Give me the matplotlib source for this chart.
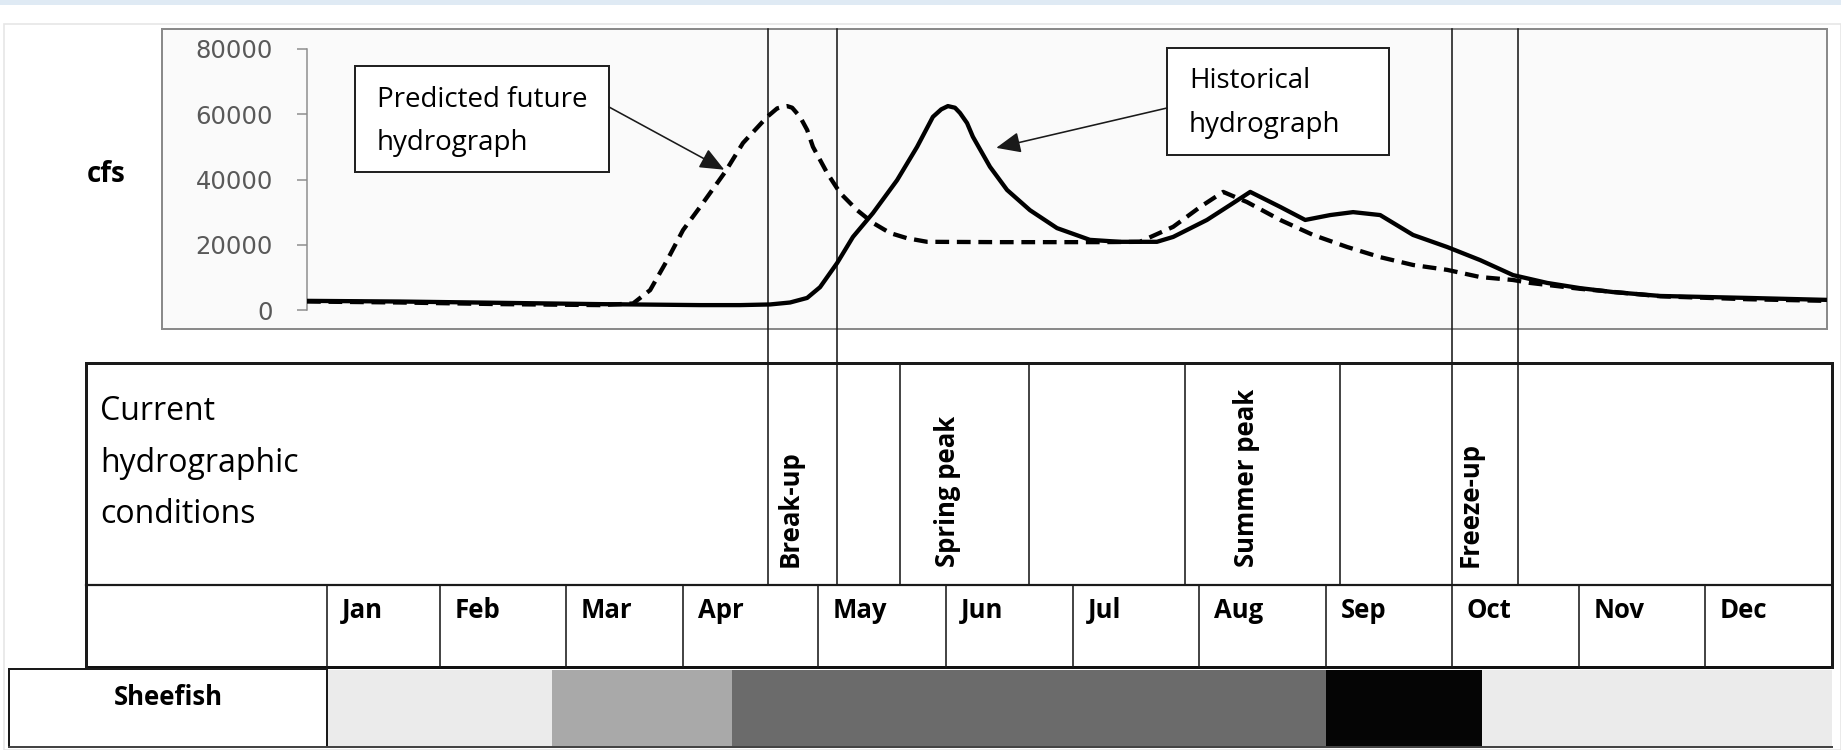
import numpy as np
import matplotlib
matplotlib.use("Agg")
import matplotlib.pyplot as plt
from matplotlib.patches import Rectangle
from matplotlib.transforms import blended_transform_factory

# ---------------- data ----------------
hist_day = [0, 22.3, 46.3, 70.4, 94.4, 104, 111.2, 116, 120.1, 123.2, 127.3, 131.1,
            135.9, 141.7, 146.5, 150.3, 152.3, 153.9, 155.6, 156.8, 158.5, 159.9, 164, 168.1,
            173.6, 180.1, 188, 195.2, 204.1, 208, 216.1, 221.7, 226.5, 233.7, 239.7,
            245.7, 251.2, 257.7, 265.6, 273.8, 281.7, 289.6, 297.8, 305.7, 313.6, 325,
            346, 365]
hist_cfs = [2800, 2600, 2200, 1800, 1500, 1500, 1700, 2300, 3700, 7000, 14400, 22400,
            29700, 39800, 50000, 59200, 61500, 62500, 62000, 60400, 57300, 53100, 43900, 36800,
            30600, 25100, 21500, 20900, 20900, 22400, 27600, 32200, 36200, 31600, 27600,
            29100, 30000, 29100, 23000, 19300, 15300, 10700, 8300, 6700, 5500, 4300,
            3700, 3100]

pred_day = [0, 22.3, 46.3, 70.4, 78.3, 82.4, 86.5, 90.3, 94.4, 100.4, 104.7, 110.5,
            112.9, 114.3, 115.3, 116.5, 118.4, 120.1, 121.5, 124.9, 128, 132.1, 135.9,
            140, 144.1, 148.9, 166.4, 190.4, 200, 208, 214.5, 220, 225.7, 233.7, 241.6,
            249.8, 257.7, 265.6, 273.8, 281.7, 289.6, 293.7, 305.7, 325, 346, 365]
pred_cfs = [2600, 2300, 1800, 1500, 2000, 6100, 15300, 24500, 31600, 42300, 51200, 59200,
            61800, 62300, 62500, 62000, 59200, 55200, 50000, 42000, 35900, 30600, 26700,
            23600, 22000, 20900, 20800, 20800, 20900, 25500, 31600, 36200, 33100, 27600,
            23000, 19300, 16200, 13800, 12300, 10100, 9200, 8300, 6500, 4200, 3300, 2800]

yticks = [0, 20000, 40000, 60000, 80000]
months = ["Jan", "Feb", "Mar", "Apr", "May", "Jun", "Jul", "Aug", "Sep", "Oct", "Nov", "Dec"]
breakup_days = [110.7, 127.3]
freezeup_days = [275.0, 290.8]
condition_labels = ["Break-up", "Spring peak", "Summer peak", "Freeze-up"]
species = "Sheefish"
sheefish_start = [0.0, 1.89, 3.36, 8.0, 9.24]      # in months from Jan 1
sheefish_end = [1.89, 3.36, 8.0, 9.24, 12.0]
sheefish_level = ["low", "medium", "high", "peak", "low"]

# ---------------- layout / style ----------------
W, H = 1841, 750
PX = 0.72  # points per pixel at dpi 100
level_colors = {"low": "#ebebeb", "medium": "#a9a9a9", "high": "#6b6b6b", "peak": "#050505"}
month_edges_px = [327, 440, 566, 683, 818, 946, 1073, 1199, 1326, 1452, 1579, 1705, 1832]
cond_dividers_px = [900, 1029, 1185, 1340]
cond_label_x = [790, 948, 1247, 1470]
FONT = "Open Sans"

fig = plt.figure(figsize=(W / 100, H / 100), dpi=100)
fig.patch.set_facecolor("white")

bg = fig.add_axes([0, 0, 1, 1])
bg.set_xlim(0, W)
bg.set_ylim(H, 0)
bg.axis("off")

# page decorations
bg.add_patch(Rectangle((0, 0), W, 5, fc="#dfeaf4", ec="none"))
bg.add_patch(Rectangle((4, 24), W - 4, H - 24, fc="white", ec="#e6e6e6", lw=1.2))
# chart area
bg.add_patch(Rectangle((162, 29), 1827 - 162, 329 - 29, fc="#fafafa", ec="#8a8a8a", lw=2 * PX))

# chart axes
ax = fig.add_axes([307 / W, 1 - 310 / H, (1827 - 307) / W, (310 - 49) / H])
ax.set_facecolor("none")
ax.plot(pred_day, pred_cfs, color="black", lw=4.3 * PX, linestyle=(0, (3.2, 1.8)),
        dash_capstyle="butt", solid_joinstyle="round", zorder=3)
ax.plot(hist_day, hist_cfs, color="black", lw=4.3 * PX, solid_joinstyle="round",
        solid_capstyle="butt", zorder=4)
ax.set_xlim(0, 365)
ax.set_ylim(0, 80000)
ax.set_yticks(yticks)
ax.set_yticklabels([str(v) for v in yticks], fontfamily="DejaVu Sans", fontsize=17.5,
                   color="#595959")
ax.set_xticks([])
for s in ["top", "right", "bottom"]:
    ax.spines[s].set_visible(False)
ax.spines["left"].set_color("#8c8c8c")
ax.spines["left"].set_linewidth(1.5 * PX)
ax.tick_params(axis="y", direction="out", length=10 * PX, width=1.5 * PX,
               color="#8c8c8c", pad=24 * PX)

# event lines through chart and conditions row
trans = blended_transform_factory(ax.transData, bg.transData)
for d in breakup_days + freezeup_days:
    ax.plot([d, d], [29, 585], transform=trans, color="#1a1a1a", lw=1.6 * PX,
            clip_on=False, zorder=2)

# y label
bg.text(87, 182, "cfs", fontfamily=FONT, fontweight="bold", fontsize=20,
        ha="left", va="baseline", color="black")

# annotation boxes
bg.add_patch(Rectangle((355, 66), 254, 106, fc="white", ec="#222222", lw=2 * PX, zorder=5))
bg.text(377, 107, "Predicted future", fontfamily=FONT, fontsize=20, va="baseline", zorder=6)
bg.text(377, 150, "hydrograph", fontfamily=FONT, fontsize=20, va="baseline", zorder=6)
bg.add_patch(Rectangle((1167, 48), 222, 107, fc="white", ec="#222222", lw=2 * PX, zorder=5))
bg.text(1189, 88, "Historical", fontfamily=FONT, fontsize=20, va="baseline", zorder=6)
bg.text(1189, 132, "hydrograph", fontfamily=FONT, fontsize=20, va="baseline", zorder=6)

arrow_kw = dict(arrowstyle="-|>,head_length=0.75,head_width=0.32", color="#1a1a1a",
                lw=1.6 * PX, shrinkA=0, shrinkB=0, mutation_scale=20)
ax.annotate("", xy=(100.2, 43000), xytext=(609, 107), textcoords=bg.transData,
            arrowprops=arrow_kw, annotation_clip=False)
ax.annotate("", xy=(165.5, 49700), xytext=(1167, 108), textcoords=bg.transData,
            arrowprops=arrow_kw, annotation_clip=False)

# ---------------- table ----------------
thick = 3 * PX
thin = 1.6 * PX
# conditions row
bg.plot([86, 1832], [363, 363], color="#1a1a1a", lw=thick)
bg.plot([86, 1832], [585, 585], color="#1a1a1a", lw=2.2 * PX)
bg.plot([86, 1832], [667, 667], color="#111111", lw=thick)
bg.plot([86, 86], [363, 667], color="#1a1a1a", lw=thick)
bg.plot([1832, 1832], [363, 667], color="#1a1a1a", lw=thick)
for x in cond_dividers_px:
    bg.plot([x, x], [363, 585], color="#1a1a1a", lw=thin)
for x in month_edges_px[:-1]:
    bg.plot([x, x], [585, 667], color="#1a1a1a", lw=thin)

cond_lines_y = [420, 472, 523]
for yy, t in zip(cond_lines_y, ["Current", "hydrographic", "conditions"]):
    bg.text(100, yy, t, fontfamily=FONT, fontsize=23, va="baseline", ha="left")

for x, t in zip(cond_label_x, condition_labels):
    bg.text(x, 567, t, fontfamily=FONT, fontweight="bold", fontsize=18.5, rotation=90,
            rotation_mode="anchor", ha="left", va="center")

for i, m in enumerate(months):
    bg.text(month_edges_px[i] + 15, 618, m, fontfamily=FONT, fontweight="bold",
            fontsize=18.5, va="baseline", ha="left")

# sheefish row
mpos = np.arange(13)
starts_px = np.interp(sheefish_start, mpos, month_edges_px)
ends_px = np.interp(sheefish_end, mpos, month_edges_px)
bg.barh([708.5] * len(starts_px), ends_px - starts_px, left=starts_px, height=77,
        color=[level_colors[l] for l in sheefish_level], edgecolor="none", zorder=1)
bg.add_patch(Rectangle((9, 669), 327 - 9, 78, fc="white", ec="#1a1a1a", lw=2 * PX, zorder=2))
bg.plot([9, 1832], [747, 747], color="#444444", lw=2 * PX, zorder=3)
bg.text(168, 705, species, fontfamily=FONT, fontweight="bold", fontsize=18.5,
        ha="center", va="baseline", zorder=4)

fig.savefig("out.png", dpi=100)
